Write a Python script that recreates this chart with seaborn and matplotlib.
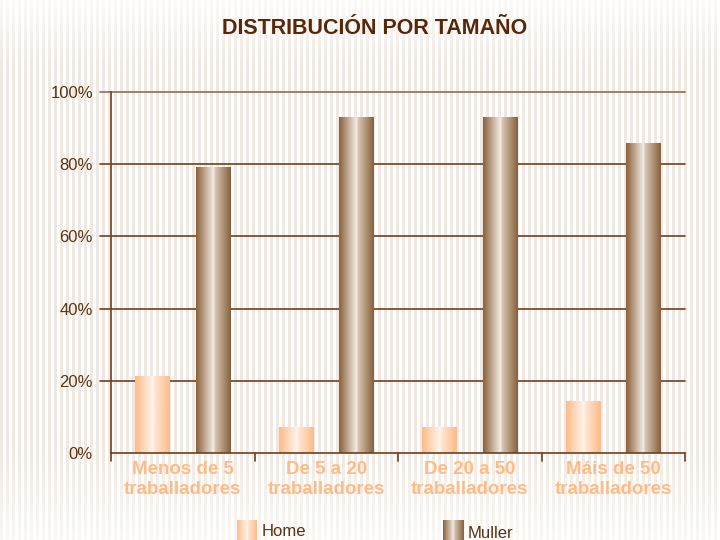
import numpy as np
import pandas as pd
import matplotlib
matplotlib.use("Agg")
import matplotlib.pyplot as plt
from matplotlib.colors import LinearSegmentedColormap
import seaborn as sns

# datos leídos do gráfico
categorias = ["Menos de 5\ntraballadores", "De 5 a 20\ntraballadores",
              "De 20 a 50\ntraballadores", "Máis de 50\ntraballadores"]
home = [21.3, 7.2, 7.2, 14.4]
muller = [79.0, 93.0, 92.8, 85.6]
series = ["Home", "Muller"]
yticks = [0, 20, 40, 60, 80, 100]

df = pd.DataFrame({
    "categoria": categorias * 2,
    "serie": ["Home"] * 4 + ["Muller"] * 4,
    "valor": home + muller,
})

marron = "#5a3214"
pexego = "#ffbb85"

# degradados tipo cilindro
cmap_home = LinearSegmentedColormap.from_list(
    "home", [(0, "#fdbb88"), (0.52, "#fff4ec"), (0.56, "#fde6d4"), (1, "#fdbb88")])
cmap_muller = LinearSegmentedColormap.from_list(
    "muller", [(0, "#8a603a"), (0.5, "#f4ece4"), (0.55, "#d9c6b4"), (1, "#85603c")])
cmaps = {"Home": cmap_home, "Muller": cmap_muller}

sns.set_style("white")
plt.rcParams["font.family"] = ["Liberation Sans", "DejaVu Sans"]

fig = plt.figure(figsize=(7.2, 5.4), dpi=100)

# fondo a raias verticais
bg = fig.add_axes([0, 0, 1, 1], zorder=-10)
W, H = 720, 540
col = np.arange(W)
raia = ((col // 3) % 2 == 0).astype(float)
fila = np.arange(H)
perfil = np.interp(fila, [0, 70, 440, 540], [0.25, 1.0, 1.0, 0.35])
mask = perfil[:, None] * raia[None, :]
beige = np.array([0.94, 0.91, 0.88])
img = 1 - mask[..., None] * (1 - beige[None, None, :])
bg.imshow(img, aspect="auto", extent=[0, 1, 0, 1])
bg.axis("off")

ax = fig.add_axes([111 / 720, 1 - 453 / 540, 574 / 720, 361 / 540])
ax.patch.set_alpha(0)

sns.barplot(data=df, x="categoria", y="valor", hue="serie", order=categorias,
            hue_order=series, width=0.84, gap=0.43, ax=ax, legend=False,
            palette=["#fdc9a0", "#a07a55"], edgecolor="none", zorder=3)

# pintar o degradado sobre cada barra
grad = np.linspace(0, 1, 256)[None, :]
nb = len(categorias)
for i, p in enumerate(ax.patches[:2 * nb]):
    s = series[i // nb]
    x0, y0 = p.get_x(), p.get_y()
    w, h = p.get_width(), p.get_height()
    ax.imshow(grad, cmap=cmaps[s], aspect="auto",
              extent=[x0, x0 + w, y0, y0 + h], zorder=4)
    p.set_visible(False)

ax.set_xlim(-0.5, nb - 0.5)
ax.set_ylim(0, 100)
ax.set_yticks(yticks)
ax.set_yticklabels([f"{v}%" for v in yticks], color=marron, fontsize=12)
for v in yticks[1:]:
    ax.axhline(v, color="#6b4022" if v < 100 else "#8c6d55", lw=1.2, zorder=1,
               clip_on=False, xmin=-0.02, xmax=1)

ax.set_xticks(np.arange(nb))
ax.set_xticklabels(categorias, color=pexego, fontsize=13.5, fontweight="bold",
                   linespacing=1.22)
ax.tick_params(axis="x", length=0, pad=6)
ax.tick_params(axis="y", length=10, color="#6b4022", width=1.2, pad=3)
# marcas entre grupos
for b in np.arange(-0.5, nb, 1.0):
    ax.plot([b, b], [0, -2.2], color="#6b4022", lw=1.2, clip_on=False, zorder=5)
ax.set_xlabel("")
ax.set_ylabel("")

for side in ["top", "right"]:
    ax.spines[side].set_visible(False)
for side in ["left", "bottom"]:
    ax.spines[side].set_color("#6b4022")
    ax.spines[side].set_linewidth(1.2)
    ax.spines[side].set_zorder(6)

fig.text(375 / 720, 1 - 28 / 540, "DISTRIBUCIÓN POR TAMAÑO", ha="center",
         va="center", fontsize=15.5, fontweight="bold", color="#5a2608")

# lenda ao pé
for s, xl, yt in zip(series, [237, 443], [8, 6]):
    lax = fig.add_axes([xl / 720, 0, 20 / 720, 20 / 540])
    lax.imshow(grad, cmap=cmaps[s], aspect="auto")
    lax.axis("off")
    fig.text((xl + 25) / 720, yt / 540, s, fontsize=12, color=marron,
             va="center", ha="left")

fig.savefig("out.png", dpi=100)
